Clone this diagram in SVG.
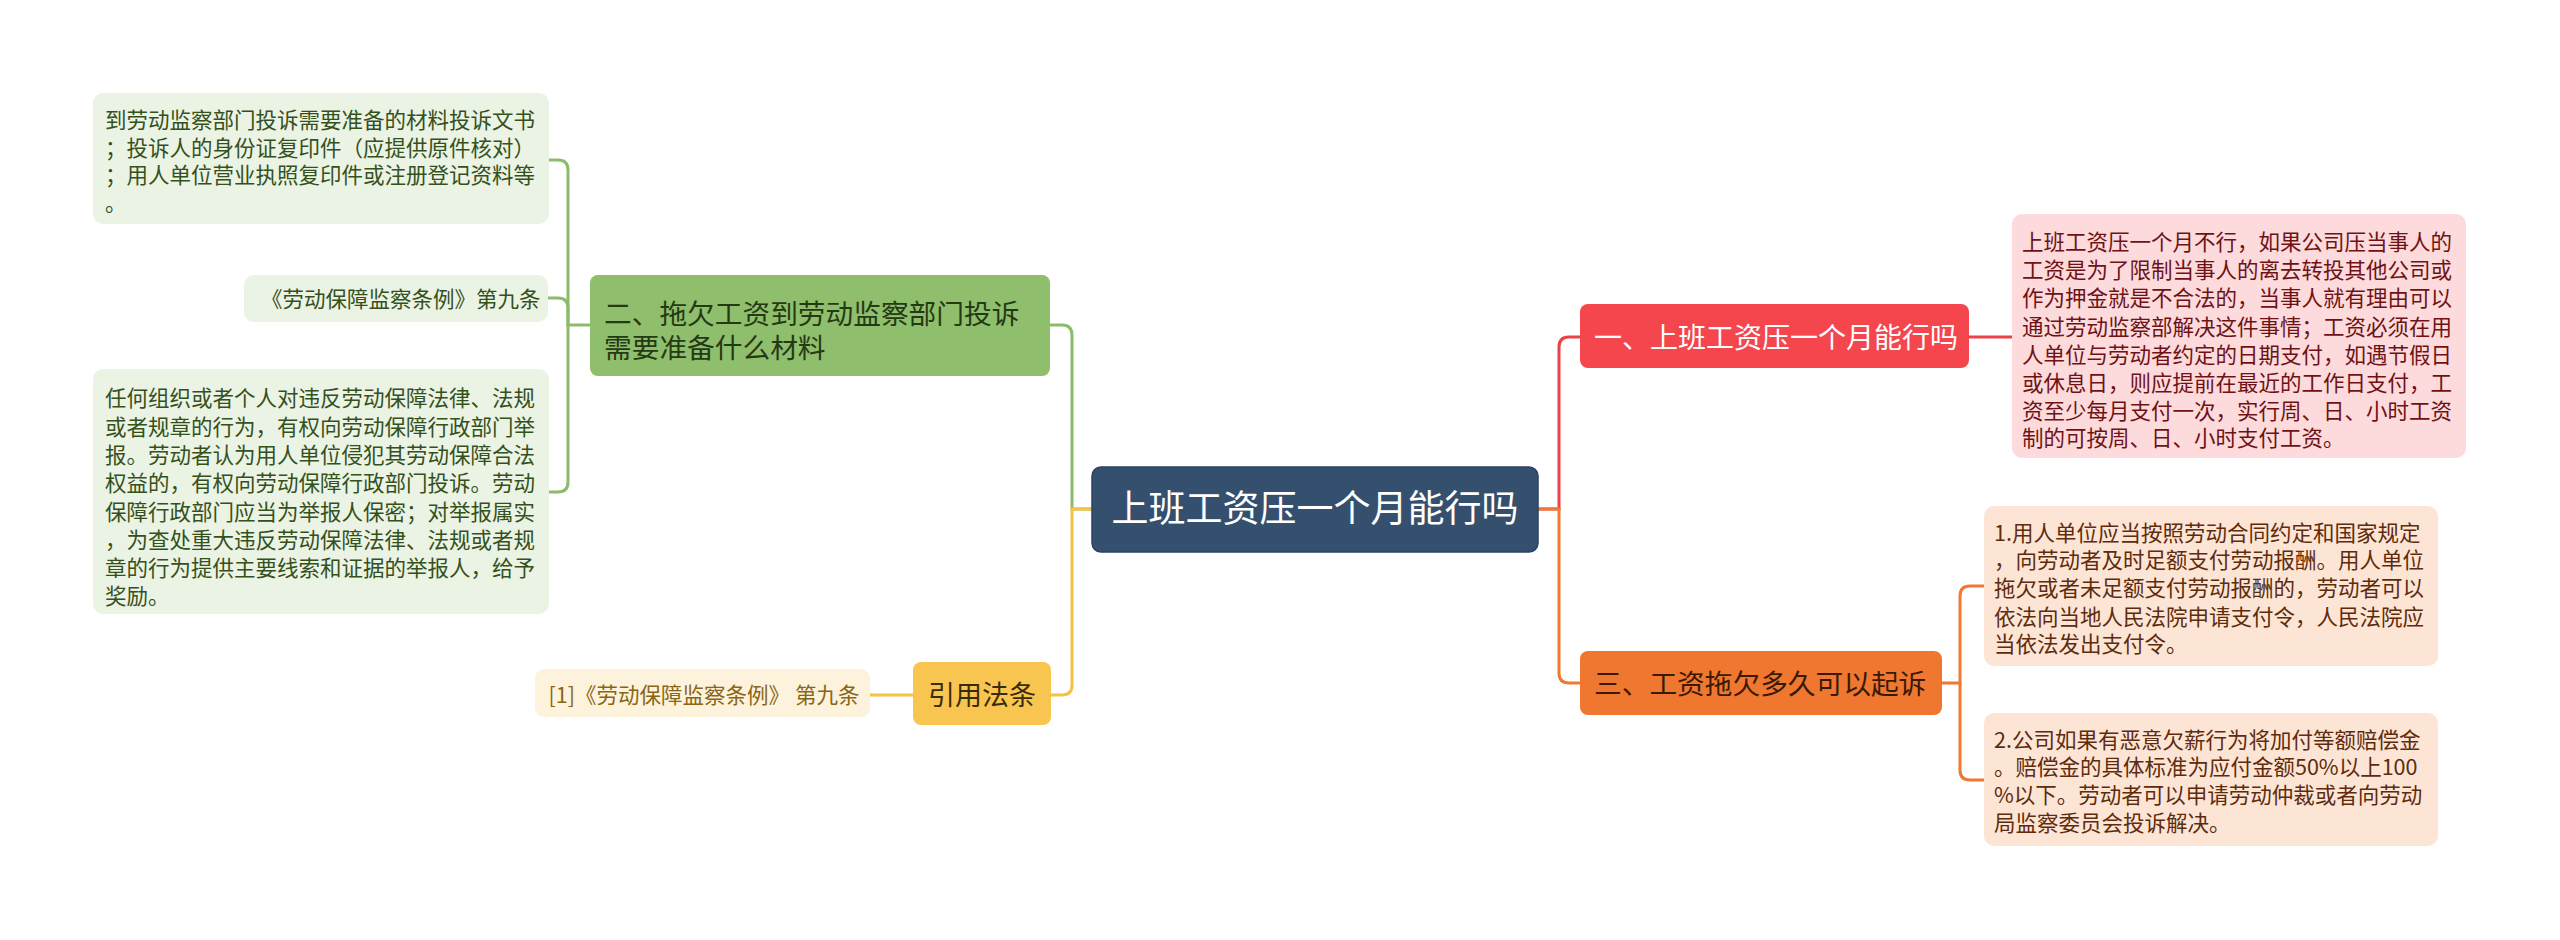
<svg xmlns="http://www.w3.org/2000/svg" width="2560" height="940" viewBox="0 0 2560 940">
<style>
text{font-family:"Noto Sans CJK SC","Microsoft YaHei",sans-serif;}
.leaf{font-size:21.5px;}
.main{font-size:27.7px;}
.c{fill:none;stroke-width:3;stroke-linecap:round;}
</style>
<rect width="2560" height="940" fill="#ffffff"/>
<g id="connectors">
<path class="c" stroke="#8cbb6b" d="M1092,509 H1072 V335 Q1072,325 1062,325 H1050"/>
<path class="c" stroke="#f5c243" d="M1092,509 H1072 V685 Q1072,695 1062,695 H1051"/>
<path class="c" stroke="#8cbb6b" d="M591,325 H568 V170 Q568,160 558,160 H549"/>
<path class="c" stroke="#8cbb6b" d="M568,325 V308 Q568,298 558,298 H548"/>
<path class="c" stroke="#8cbb6b" d="M568,325 V482 Q568,492 558,492 H549"/>
<path class="c" stroke="#f5c243" d="M914,695 H870"/>
<path class="c" stroke="#ea4249" d="M1538,509 H1559 V347 Q1559,337 1569,337 H1580"/>
<path class="c" stroke="#ea4249" d="M1969,337 H2012"/>
<path class="c" stroke="#ef7932" d="M1538,509 H1559 V673 Q1559,683 1569,683 H1580"/>
<path class="c" stroke="#ef7932" d="M1941,683 H1960 V596 Q1960,586 1970,586 H1984"/>
<path class="c" stroke="#ef7932" d="M1960,683 V770 Q1960,780 1970,780 H1984"/>
</g>
<g id="center">
<rect x="1092" y="467" width="446" height="85" rx="9" fill="#35506e" stroke="#2b4260" stroke-width="1.5"/>
<text x="1315" y="522" font-size="37" fill="#ffffff" text-anchor="middle">上班工资压一个月能行吗</text>
</g>
<g id="n2">
<rect x="590" y="275" width="460" height="101" rx="8" fill="#8fbe6d"/>
<text class="main" fill="#243a12"><tspan x="604" y="323.5">二、拖欠工资到劳动监察部门投诉</tspan><tspan x="604" y="357.5">需要准备什么材料</tspan></text>
</g>
<g id="n2a">
<rect x="93" y="93" width="456" height="131" rx="10" fill="#ebf3e4"/>
<text class="leaf" fill="#34511c"><tspan x="105" y="128">到劳动监察部门投诉需要准备的材料投诉文书</tspan><tspan x="105" y="156">；投诉人的身份证复印件（应提供原件核对）</tspan><tspan x="105" y="183">；用人单位营业执照复印件或注册登记资料等</tspan><tspan x="105" y="211">。</tspan></text>
</g>
<g id="n2b">
<rect x="244" y="275" width="304" height="47" rx="10" fill="#ebf3e4"/>
<text class="leaf" fill="#34511c" x="261" y="307">《劳动保障监察条例》第九条</text>
</g>
<g id="n2c">
<rect x="93" y="369" width="456" height="245" rx="10" fill="#ebf3e4"/>
<text class="leaf" fill="#34511c"><tspan x="105" y="406">任何组织或者个人对违反劳动保障法律、法规</tspan><tspan x="105" y="435">或者规章的行为，有权向劳动保障行政部门举</tspan><tspan x="105" y="463">报。劳动者认为用人单位侵犯其劳动保障合法</tspan><tspan x="105" y="491">权益的，有权向劳动保障行政部门投诉。劳动</tspan><tspan x="105" y="520">保障行政部门应当为举报人保密；对举报属实</tspan><tspan x="105" y="548">，为查处重大违反劳动保障法律、法规或者规</tspan><tspan x="105" y="576">章的行为提供主要线索和证据的举报人，给予</tspan><tspan x="105" y="604">奖励。</tspan></text>
</g>
<g id="n4">
<rect x="913" y="662" width="138" height="63" rx="8" fill="#f8c550"/>
<text x="982" y="705" font-size="27" fill="#3a2c08" text-anchor="middle">引用法条</text>
</g>
<g id="n4a">
<rect x="535" y="669" width="335" height="48" rx="9" fill="#fdf3dc"/>
<text class="leaf" x="704" y="703" fill="#8a6614" text-anchor="middle">[1]《劳动保障监察条例》 第九条</text>
</g>
<g id="n1">
<rect x="1580" y="304" width="389" height="64" rx="8" fill="#f4464c"/>
<text x="1594" y="348" font-size="28" fill="#ffffff">一、上班工资压一个月能行吗</text>
</g>
<g id="n1a">
<rect x="2012" y="214" width="454" height="244" rx="10" fill="#fddadb"/>
<text class="leaf" fill="#6e1216"><tspan x="2022" y="250">上班工资压一个月不行，如果公司压当事人的</tspan><tspan x="2022" y="278">工资是为了限制当事人的离去转投其他公司或</tspan><tspan x="2022" y="306">作为押金就是不合法的，当事人就有理由可以</tspan><tspan x="2022" y="335">通过劳动监察部解决这件事情；工资必须在用</tspan><tspan x="2022" y="363">人单位与劳动者约定的日期支付，如遇节假日</tspan><tspan x="2022" y="391">或休息日，则应提前在最近的工作日支付，工</tspan><tspan x="2022" y="419">资至少每月支付一次，实行周、日、小时工资</tspan><tspan x="2022" y="446">制的可按周、日、小时支付工资。</tspan></text>
</g>
<g id="n3">
<rect x="1580" y="651" width="362" height="64" rx="8" fill="#f0772f"/>
<text class="main" x="1594" y="693.5" fill="#3a1a05">三、工资拖欠多久可以起诉</text>
</g>
<g id="n3a">
<rect x="1984" y="506" width="454" height="160" rx="10" fill="#fde5d6"/>
<text class="leaf" fill="#5e2c0c"><tspan x="1994" y="541">1.用人单位应当按照劳动合同约定和国家规定</tspan><tspan x="1994" y="568">，向劳动者及时足额支付劳动报酬。用人单位</tspan><tspan x="1994" y="596">拖欠或者未足额支付劳动报酬的，劳动者可以</tspan><tspan x="1994" y="625">依法向当地人民法院申请支付令，人民法院应</tspan><tspan x="1994" y="652">当依法发出支付令。</tspan></text>
</g>
<g id="n3b">
<rect x="1984" y="713" width="454" height="133" rx="10" fill="#fde5d6"/>
<text class="leaf" fill="#5e2c0c"><tspan x="1994" y="748">2.公司如果有恶意欠薪行为将加付等额赔偿金</tspan><tspan x="1994" y="775">。赔偿金的具体标准为应付金额50%以上100</tspan><tspan x="1994" y="803">%以下。劳动者可以申请劳动仲裁或者向劳动</tspan><tspan x="1994" y="831">局监察委员会投诉解决。</tspan></text>
</g>
</svg>
